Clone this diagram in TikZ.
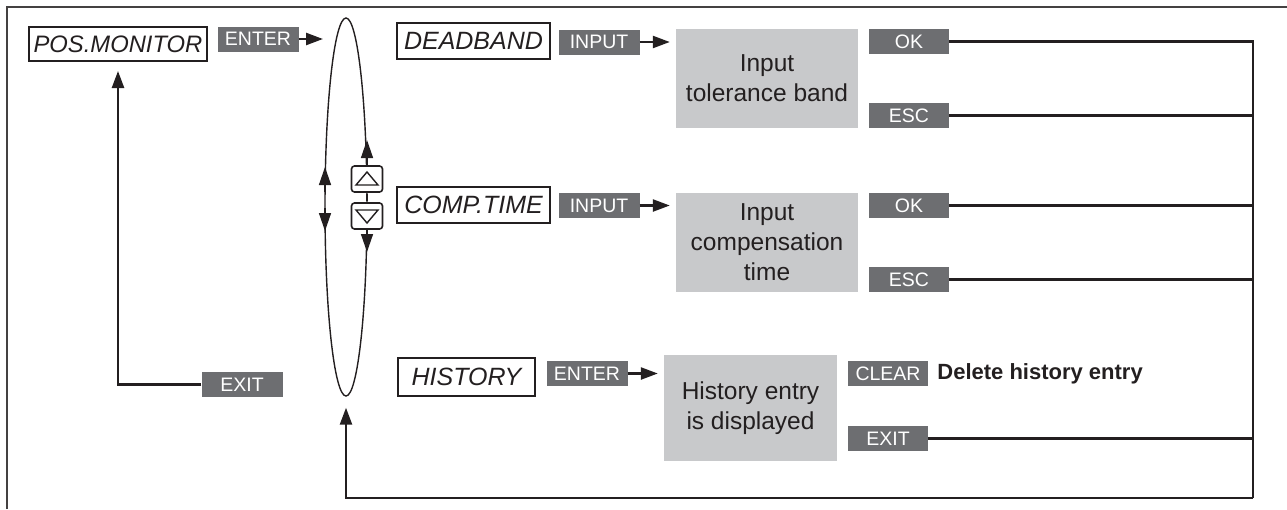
\documentclass[tikz,border=0pt]{standalone}
\usepackage{fontspec}
\setmainfont{Liberation Sans}
\usetikzlibrary{arrows.meta,shapes.geometric,calc}
\definecolor{dk}{RGB}{109,110,113}
\definecolor{lt}{RGB}{200,201,203}
\definecolor{ink}{RGB}{35,31,32}
\begin{document}
\begin{tikzpicture}[x=1pt,y=-1pt,line join=miter,
  menu/.style={draw=ink,line width=2pt,fill=white,inner sep=0pt,font=\fontsize{25}{28}\selectfont\itshape,text=ink},
  key/.style={fill=dk,text=white,inner sep=0pt,minimum width=81pt,minimum height=25pt,font=\fontsize{19.5}{22}\selectfont},
  panel/.style={fill=lt,inner sep=0pt,align=center,text=ink,font=\fontsize{24.5}{30}\selectfont},
  conn/.style={draw=ink,line width=2.4pt},
  arr/.style={conn,-{Triangle[length=17pt,width=12pt]}},
  thinarr/.style={draw=ink,line width=1.4pt,-{Triangle[length=18pt,width=12pt]}},
  btn/.style={draw=ink,line width=1.6pt,fill=white,rounded corners=3pt,minimum width=31pt,minimum height=26pt,inner sep=0pt},
]
\useasboundingbox (0,0) rectangle (1287,509);
% frame
\draw[draw=ink!85,line width=1.6pt] (7,509) -- (7,7) -- (1287,7);

% loop ellipse
\node[draw=ink,line width=1.4pt,ellipse,minimum width=42pt,minimum height=378pt,inner sep=0pt] (loop) at (346,207) {};

% menu items
\node[menu,minimum width=178pt,minimum height=34pt,font=\fontsize{23.8}{28}\selectfont\itshape] (pos) at (118,44) {POS.MONITOR};
\node[key] (enter1) at (258,39) {ENTER};
\node[menu,minimum width=153pt,minimum height=36pt] (dead) at (473.5,41) {DEADBAND};
\node[key] (input1) at (599,42) {INPUT};
\node[panel,minimum width=182pt,minimum height=99pt] (tol) at (767,78.5) {Input\\tolerance band};
\node[key,minimum width=80pt] (ok1) at (909,41.5) {OK};
\node[key,minimum width=80pt] (esc1) at (909,115.5) {ESC};

\node[menu,minimum width=153pt,minimum height=36pt] (comp) at (473.5,205) {COMP.TIME};
\node[key] (input2) at (599,205.5) {INPUT};
\node[panel,minimum width=182pt,minimum height=99pt] (ctime) at (767,242.5) {Input\\compensation\\time};
\node[key,minimum width=80pt] (ok2) at (909,205.5) {OK};
\node[key,minimum width=80pt] (esc2) at (909,279.5) {ESC};

\node[menu,minimum width=137pt,minimum height=38pt] (hist) at (466.5,377) {HISTORY};
\node[key] (enter2) at (587,373.5) {ENTER};
\node[panel,minimum width=173pt,minimum height=106pt] (hbox) at (750.5,408) {History entry\\is displayed};
\node[key,minimum width=80pt] (clear) at (888,373.5) {CLEAR};
\node[anchor=west,inner sep=0pt,text=ink,font=\fontsize{22}{26}\selectfont\bfseries] (del) at ([xshift=9pt]clear.east) {Delete history entry};
\node[key,minimum width=80pt] (exit2) at (888,438.5) {EXIT};

\node[key] (exit1) at (242,384.5) {EXIT};

% buttons on the loop
\node[btn] (up) at (367,179) {};
\node[btn] (down) at (367,216) {};
\draw[draw=ink,line width=1.4pt] ([yshift=-1pt]up.south) -- ([yshift=1pt]down.north);
\draw[draw=ink,line width=1.4pt] ($(up.center)+(-11,6)$) -- ($(up.center)+(11,6)$) -- ($(up.center)+(0,-7)$) -- cycle;
\draw[draw=ink,line width=1.4pt] ($(down.center)+(-11,-6)$) -- ($(down.center)+(11,-6)$) -- ($(down.center)+(0,7)$) -- cycle;

% arrowheads on loop
\coordinate (uptip) at (367,140);
\coordinate (downtip) at (367,252);
\draw[thinarr] (up.north) -- (uptip);
\draw[thinarr] (down.south) -- (downtip);
\coordinate (lup0) at (325,192);
\coordinate (luptip) at (325,167);
\coordinate (ldn0) at (325,208);
\coordinate (ldntip) at (325,231);
\draw[thinarr] (lup0) -- (luptip);
\draw[thinarr] (ldn0) -- (ldntip);

% connectors
\coordinate (e1end) at (323,39);
\draw[arr] (enter1.east) -- (e1end);
\draw[arr,shorten >=6pt] (input1.east) -- (input1.east -| tol.west);
\draw[arr,shorten >=6pt] (input2.east) -- (input2.east -| ctime.west);
\draw[arr,shorten >=6pt] (enter2.east) -- (enter2.east -| hbox.west);

\draw[arr,shorten >=9pt] (exit1.west) -| (pos.south);

\coordinate (rc) at (1253,498);
\draw[conn] (ok1.east) -| (rc);
\draw[conn] (esc1.east) -- (esc1.east -| rc);
\draw[conn] (ok2.east) -- (ok2.east -| rc);
\draw[conn] (esc2.east) -- (esc2.east -| rc);
\draw[conn] (exit2.east) -- (exit2.east -| rc);
\draw[arr,shorten >=11pt] (rc) -| (loop.south);
\end{tikzpicture}
\end{document}
